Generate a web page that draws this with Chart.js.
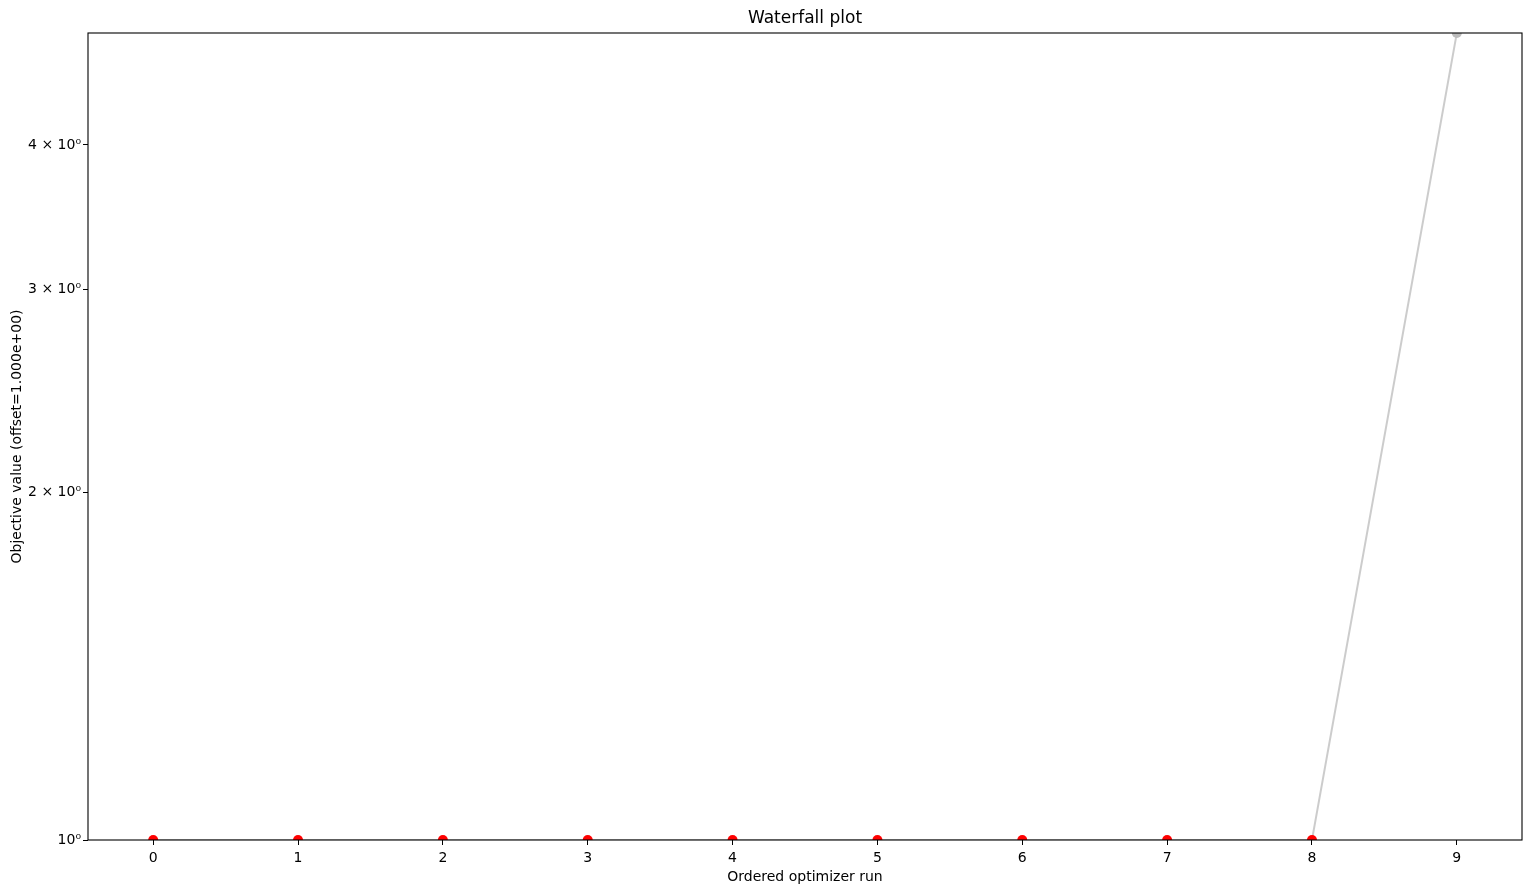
<!DOCTYPE html>
<html>
<head>
<meta charset="utf-8">
<title>Waterfall plot</title>
<script src="https://cdn.jsdelivr.net/npm/chart.js@4.4.1/dist/chart.umd.min.js"></script>
<style>
  html, body { margin: 0; padding: 0; background: #fff; }
  #wrap { width: 1531px; height: 894px; position: relative; }
</style>
</head>
<body>
<div id="wrap"><canvas id="waterfall"></canvas></div>
<script>
/* Waterfall plot: objective value per ordered optimizer run (log y). */

const runs      = [0, 1, 2, 3, 4, 5, 6, 7, 8, 9];
const objective = [1, 1, 1, 1, 1, 1, 1, 1, 1, 5];
const xTicks    = [0, 1, 2, 3, 4, 5, 6, 7, 8, 9];
const yTicks    = [1, 2, 3, 4];
const yTickText = ['10\u2070', '2 \u00d7 10\u2070', '3 \u00d7 10\u2070', '4 \u00d7 10\u2070'];

const FONT  = 'DejaVu Sans';
const RED   = '#ff0000';
const GREY  = 'rgba(0,0,0,0.2)';
const GREYP = '#bbbbbb';

/* runs that reached the best value are drawn red */
const best = Math.min(...objective);
const pointColors = objective.map(v => (v - best < 1e-6 ? RED : GREYP));

/* full black frame round the plot area, like matplotlib spines */
const frame = {
  id: 'frame',
  afterDraw(chart) {
    const a = chart.chartArea, ctx = chart.ctx;
    ctx.save();
    ctx.strokeStyle = '#000';
    ctx.lineWidth = 1.1;
    ctx.strokeRect(a.left, a.top, a.right - a.left, a.bottom - a.top);
    ctx.restore();
  }
};

new Chart(document.getElementById('waterfall'), {
  type: 'scatter',
  data: {
    datasets: [{
      data: runs.map((r, i) => ({ x: r, y: objective[i] })),
      showLine: true,
      borderColor: GREY,
      borderWidth: 2,
      pointRadius: 5,
      pointHoverRadius: 5,
      pointBorderWidth: 0,
      pointBackgroundColor: pointColors,
      clip: 0,
    }],
  },
  options: {
    responsive: true, maintainAspectRatio: false,
    animation: false,
    layout: { padding: { left: 0, right: 9, top: 0, bottom: 0 } },
    plugins: {
      legend: { display: false },
      tooltip: { enabled: false },
      title: {
        display: true,
        text: 'Waterfall plot',
        fullSize: false,
        color: '#000',
        font: { family: FONT, size: 17, weight: 'normal' },
        padding: { top: 8, bottom: 4.6 },
      },
    },
    scales: {
      x: {
        type: 'linear',
        min: -0.45, max: 9.45,
        afterBuildTicks: s => { s.ticks = xTicks.map(v => ({ value: v })); },
        afterFit: s => { s.height = 54; },
        grid: { drawOnChartArea: false, drawTicks: true, tickLength: 5, color: '#000', tickWidth: 1 },
        border: { display: false },
        ticks: { color: '#000', font: { family: FONT, size: 14 }, padding: 5, maxRotation: 0 },
        title: {
          display: true, text: 'Ordered optimizer run', color: '#000',
          font: { family: FONT, size: 14 }, padding: { top: 0, bottom: 8 },
        },
      },
      y: {
        type: 'logarithmic',
        min: 1, max: 5,
        afterBuildTicks: s => { s.ticks = yTicks.map(v => ({ value: v })); },
        afterFit: s => { s.width = 88; },
        grid: { drawOnChartArea: false, drawTicks: true, tickLength: 5, color: '#000', tickWidth: 1 },
        border: { display: false },
        ticks: {
          color: '#000', font: { family: FONT, size: 14 }, padding: 2,
          callback: v => { const i = yTicks.indexOf(v); return i < 0 ? '' : yTickText[i]; },
        },
        title: {
          display: true, text: 'Objective value (offset=1.000e+00)', color: '#000',
          font: { family: FONT, size: 14 }, padding: { top: 9, bottom: 0 },
        },
      },
    },
  },
  plugins: [frame],
});
</script>
</body>
</html>
